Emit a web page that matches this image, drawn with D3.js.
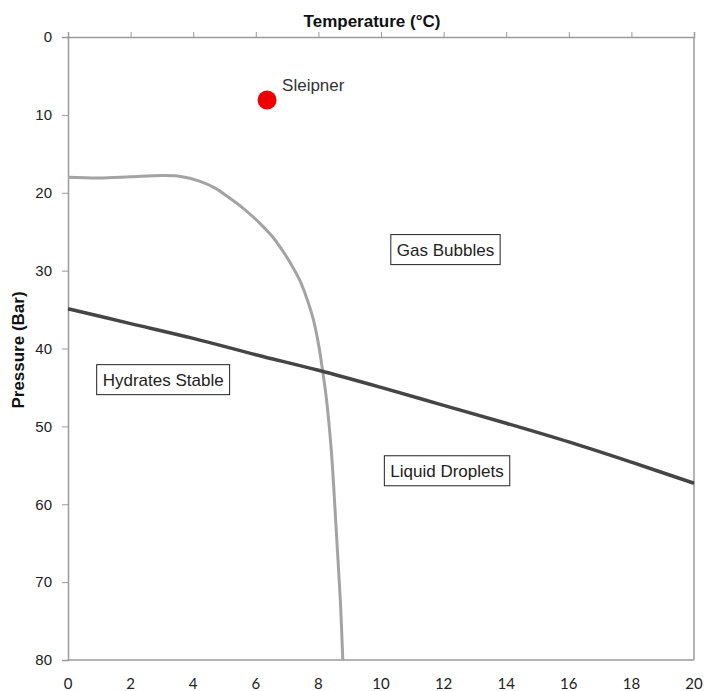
<!DOCTYPE html>
<html>
<head>
<meta charset="utf-8">
<script src="https://cdn.jsdelivr.net/npm/d3@7"></script>
<style>
  body { margin: 0; background: #fff; }
  svg { display: block; }
</style>
</head>
<body>
<svg id="chart" width="706" height="691"></svg>
<script>
// ---- data ----
const xTicks = [0, 2, 4, 6, 8, 10, 12, 14, 16, 18, 20];
const yTicks = [0, 10, 20, 30, 40, 50, 60, 70, 80];

// Gas/liquid boundary (light grey curve)
const bubbleT = [0, 1, 2, 3, 3.6, 4.2, 4.7, 5.1, 5.6, 6.1, 6.5, 6.8, 7.1, 7.4, 7.65, 7.84, 8.01, 8.14, 8.26, 8.41, 8.57, 8.70, 8.78];
const bubbleP = [18.0, 18.1, 17.95, 17.8, 17.9, 18.5, 19.4, 20.5, 22.0, 23.8, 25.5, 27.1, 29.0, 31.2, 33.8, 36.3, 39.6, 43.0, 46.6, 53.0, 63.3, 72.3, 80.0];

// Hydrate stability boundary (dark curve)
const hydrateT = [0, 2, 4, 6, 8, 10, 12, 14, 16, 18, 20];
const hydrateP = [34.9, 36.8, 38.7, 40.8, 42.8, 45.0, 47.3, 49.6, 52.0, 54.6, 57.3];

// Site point
const siteNames = ["Sleipner"];
const siteT = [6.36];
const siteP = [8.1];

// Region annotations (centre in data units)
const regionLabels = ["Hydrates Stable", "Gas Bubbles", "Liquid Droplets"];
const regionT = [3.04, 12.06, 12.11];
const regionP = [44.0, 27.3, 55.7];

// ---- layout ----
const svg = d3.select("#chart");
const pL = 68, pR = 694, pT = 37, pB = 660;
const font = "Arial, 'Liberation Sans', sans-serif";

const x = d3.scaleLinear().domain([0, 20]).range([pL, pR]);
const y = d3.scaleLinear().domain([0, 80]).range([pT, pB]);

// plot frame (right and bottom)
svg.append("line").attr("x1", pR).attr("x2", pR).attr("y1", pT).attr("y2", pB)
  .attr("stroke", "#9a9a9a").attr("stroke-width", 1.5);
svg.append("line").attr("x1", pL).attr("x2", pR).attr("y1", pB).attr("y2", pB)
  .attr("stroke", "#9a9a9a").attr("stroke-width", 1.5);

// top axis with ticks
const xAxis = d3.axisTop(x).tickValues(xTicks).tickSize(5).tickFormat("");
const gx = svg.append("g").attr("transform", `translate(0,${pT})`).call(xAxis);
gx.select(".domain").attr("stroke", "#9a9a9a").attr("stroke-width", 1.5);
gx.selectAll(".tick line").attr("stroke", "#9a9a9a");

// bottom tick labels (no ticks)
svg.append("g").selectAll("text").data(xTicks).join("text")
  .attr("x", d => x(d)).attr("y", 689)
  .attr("text-anchor", "middle")
  .attr("font-family", "Lato, 'Open Sans', sans-serif")
  .attr("font-size", 15).attr("fill", "#222")
  .text(d => d);

// left axis
const yAxis = d3.axisLeft(y).tickValues(yTicks).tickSize(6).tickPadding(10);
const gy = svg.append("g").attr("transform", `translate(${pL},0)`).call(yAxis);
gy.select(".domain").attr("stroke", "#9a9a9a").attr("stroke-width", 1.5);
gy.selectAll(".tick line").attr("stroke", "#9a9a9a");
gy.selectAll(".tick text").attr("font-family", font)
  .attr("font-size", 15).attr("fill", "#222");

// titles
svg.append("text").attr("x", 372).attr("y", 27).attr("text-anchor", "middle")
  .attr("font-family", font).attr("font-weight", "bold")
  .attr("font-size", 17).attr("fill", "#111").text("Temperature (°C)");
svg.append("text").attr("transform", "translate(24,350) rotate(-90)").attr("text-anchor", "middle")
  .attr("font-family", font).attr("font-weight", "bold")
  .attr("font-size", 17).attr("fill", "#111").text("Pressure (Bar)");

// curves
const line = d3.line().x(d => x(d[0])).y(d => y(d[1])).curve(d3.curveCatmullRom.alpha(0.5));
svg.append("path").datum(bubbleT.map((t, i) => [t, bubbleP[i]]))
  .attr("d", line).attr("fill", "none").attr("stroke", "#a3a3a3").attr("stroke-width", 3);
svg.append("path").datum(hydrateT.map((t, i) => [t, hydrateP[i]]))
  .attr("d", line).attr("fill", "none").attr("stroke", "#454545").attr("stroke-width", 3.5);

// site point
siteNames.forEach((n, i) => {
  svg.append("circle").attr("cx", x(siteT[i])).attr("cy", y(siteP[i])).attr("r", 9.5).attr("fill", "#ee0000");
  svg.append("text").attr("x", x(siteT[i]) + 15).attr("y", y(siteP[i]) - 9)
    .attr("font-family", font).attr("font-size", 17)
    .attr("fill", "#333").text(n);
});

// region labels
regionLabels.forEach((lab, i) => {
  const g = svg.append("g");
  const t = g.append("text").attr("x", x(regionT[i])).attr("y", y(regionP[i]) + 6)
    .attr("text-anchor", "middle")
    .attr("font-family", font).attr("font-size", 17)
    .attr("fill", "#222").text(lab);
  const bb = t.node().getBBox();
  g.insert("rect", "text").attr("x", bb.x - 6).attr("y", y(regionP[i]) - 15)
    .attr("width", bb.width + 12).attr("height", 30)
    .attr("fill", "#fff").attr("stroke", "#222").attr("stroke-width", 1);
});
</script>
</body>
</html>
